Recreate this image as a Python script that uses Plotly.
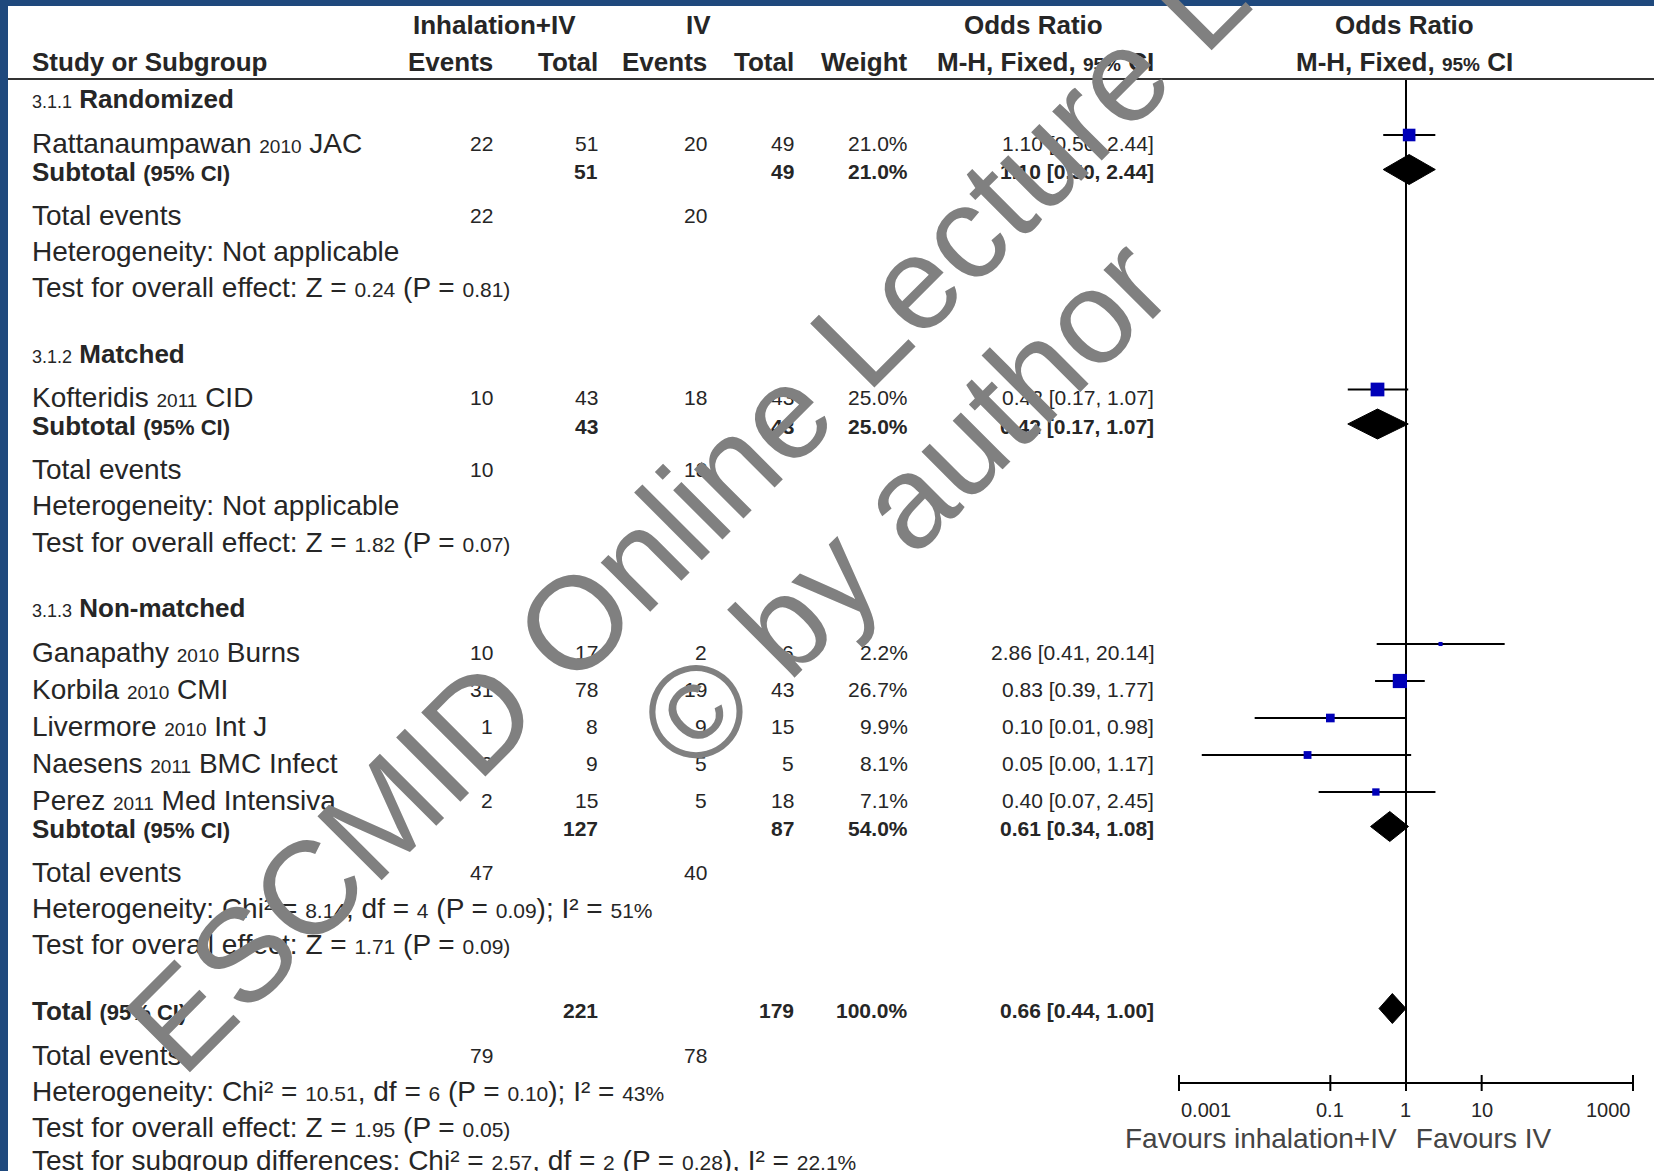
import plotly.graph_objects as go
import math

W, H = 1654, 1171

# ---------------- data ----------------
study_names = ["Rattanaumpawan", "Kofteridis", "Ganapathy", "Korbila", "Livermore", "Naesens", "Perez"]
study_years = ["2010", "2011", "2010", "2010", "2010", "2011", "2011"]
study_journals = ["JAC", "CID", "Burns", "CMI", "Int J", "BMC Infect", "Med Intensiva"]
study_group = [0, 1, 2, 2, 2, 2, 2]
events_inh = [22, 10, 10, 31, 1, 3, 2]
total_inh = [51, 43, 17, 78, 8, 9, 15]
events_iv = [20, 18, 2, 19, 9, 5, 5]
total_iv = [49, 43, 6, 43, 15, 5, 18]
weights = [21.0, 25.0, 2.2, 26.7, 9.9, 8.1, 7.1]
or_est = [1.10, 0.42, 2.86, 0.83, 0.10, 0.05, 0.40]
or_low = [0.50, 0.17, 0.41, 0.39, 0.01, 0.002, 0.07]
or_high = [2.44, 1.07, 20.14, 1.77, 0.98, 1.17, 2.45]

group_codes = ["3.1.1", "3.1.2", "3.1.3"]
group_titles = ["Randomized", "Matched", "Non-matched"]
group_total_inh = [51, 43, 127]
group_total_iv = [49, 43, 87]
group_weight = [21.0, 25.0, 54.0]
group_or = [1.10, 0.42, 0.61]
group_low = [0.50, 0.17, 0.34]
group_high = [2.44, 1.07, 1.08]
group_events_inh = [22, 10, 47]
group_events_iv = [20, 18, 40]
group_het_chi = [None, None, "8.14"]
group_het_df = [None, None, "4"]
group_het_p = [None, None, "0.09"]
group_het_i2 = [None, None, "51%"]
group_z = ["0.24", "1.82", "1.71"]
group_p = ["0.81", "0.07", "0.09"]

overall_total_inh = 221
overall_total_iv = 179
overall_weight = 100.0
overall_or = 0.66
overall_low = 0.44
overall_high = 1.00
overall_events_inh = 79
overall_events_iv = 78
overall_het = ("10.51", "6", "0.10", "43%")
overall_z = ("1.95", "0.05")
subgroup_diff = ("2.57", "2", "0.28", "22.1%")

tick_values = [0.001, 0.1, 1, 10, 1000]
tick_labels = ["0.001", "0.1", "1", "10", "1000"]
favours_left = "Favours inhalation+IV"
favours_right = "Favours IV"

# ---------------- styles / layout ----------------
REG = "Liberation Sans, Arial, sans-serif"
BLD = "Liberation Sans, Arial, sans-serif"
HS = 26  # bold header size
TXT = "#262626"
BLUE = "#0000b8"
BORDER = "#1f497d"
col_right = [495, 600, 709, 796, 910, 1156]
label_x = 30
axis_y = 1083
header_line_y = 79

annotations = []


def ann(xp, y, text, anchor="left", size=28, family=REG, color=TXT, **kw):
    d = dict(x=xp / W, xref="paper", y=y, yref="y", text=text, showarrow=False,
             xanchor=anchor, yanchor="middle",
             font=dict(size=size, family=family, color=color))
    d.update(kw)
    annotations.append(d)


def sm(s, sz=21):
    return f"<span style='font-size:{sz}px'>{s}</span>"


def fmt_or(e, lo, hi):
    return f"{e:.2f} [{lo:.2f}, {hi:.2f}]"


def numrow(y, vals, bold=False):
    for i, v in enumerate(vals):
        if v is None or v == "":
            continue
        t = f"<b>{v}</b>" if bold else str(v)
        ann(col_right[i], y, t, anchor="right", size=21)


# headers
ann(494, 25, "<b>Inhalation+IV</b>", anchor="center", size=HS, family=BLD)
ann(698, 25, "<b>IV</b>", anchor="center", size=HS, family=BLD)
ann(1033, 25, "<b>Odds Ratio</b>", anchor="center", size=HS, family=BLD)
ann(1404, 25, "<b>Odds Ratio</b>", anchor="center", size=HS, family=BLD)
ann(label_x, 62, "<b>Study or Subgroup</b>", size=HS, family=BLD)
for xr, t in zip(col_right[:5], ["Events", "Total", "Events", "Total", "Weight"]):
    ann(xr, 62, f"<b>{t}</b>", anchor="right", size=HS, family=BLD)
mh = "<b>M-H, Fixed, </b>" + sm("<b>95%</b>", 19) + "<b> CI</b>"
ann(1156, 62, mh, anchor="right", size=HS, family=BLD)
ann(1404, 62, mh, anchor="center", size=HS, family=BLD)

# forest trace collectors
ci_x, ci_y = [], []
sq_x, sq_y, sq_s = [], [], []
diamonds = []

y = 99
for g in range(3):
    ann(label_x, y, sm(group_codes[g], 18) + " <b>" + group_titles[g] + "</b>", size=HS, family=BLD)
    y += 44
    idx = [i for i in range(len(study_names)) if study_group[i] == g]
    last = y
    for i in idx:
        ann(label_x, y, f"{study_names[i]} {sm(study_years[i], 19)} {study_journals[i]}")
        numrow(y, [events_inh[i], total_inh[i], events_iv[i], total_iv[i],
                   f"{weights[i]:.1f}%", fmt_or(or_est[i], or_low[i], or_high[i])])
        ci_x += [or_low[i], or_high[i], None]
        ci_y += [y - 8, y - 8, None]
        sq_x.append(or_est[i]); sq_y.append(y - 8); sq_s.append(2.75 * math.sqrt(weights[i]))
        last = y
        y += 37
    y = last + 28.5
    ann(label_x, y, "<b>Subtotal</b> " + sm("<b>(95% CI)</b>", 22), size=HS, family=BLD)
    numrow(y, ["", group_total_inh[g], "", group_total_iv[g], f"{group_weight[g]:.1f}%",
               fmt_or(group_or[g], group_low[g], group_high[g])], bold=True)
    diamonds.append((group_low[g], group_or[g], group_high[g], y - 2))
    y += 43.5
    ann(label_x, y, "Total events")
    numrow(y, [group_events_inh[g], "", group_events_iv[g]])
    y += 36
    if group_het_chi[g] is None:
        ann(label_x, y, "Heterogeneity: Not applicable")
    else:
        ann(label_x, y, f"Heterogeneity: Chi² = {sm(group_het_chi[g])}, df = {sm(group_het_df[g])} "
                        f"(P = {sm(group_het_p[g])}); I² = {sm(group_het_i2[g])}")
    y += 36.5
    ann(label_x, y, f"Test for overall effect: Z = {sm(group_z[g])} (P = {sm(group_p[g] + ')')}")
    y += 66

# overall
ann(label_x, y, "<b>Total</b> " + sm("<b>(95% CI)</b>", 22), size=HS, family=BLD)
numrow(y, ["", overall_total_inh, "", overall_total_iv, f"{overall_weight:.1f}%",
           fmt_or(overall_or, overall_low, overall_high)], bold=True)
diamonds.append((overall_low, overall_or, overall_high, y - 2))
y += 44.5
ann(label_x, y, "Total events")
numrow(y, [overall_events_inh, "", overall_events_iv])
y += 36
c, d, p, i2 = overall_het
ann(label_x, y, f"Heterogeneity: Chi² = {sm(c)}, df = {sm(d)} (P = {sm(p)}); I² = {sm(i2)}")
y += 36
ann(label_x, y, f"Test for overall effect: Z = {sm(overall_z[0])} (P = {sm(overall_z[1] + ')')}")
y += 33
c, d, p, i2 = subgroup_diff
ann(label_x, y, f"Test for subgroup differences: Chi² = {sm(c)}, df = {sm(d)} (P = {sm(p)}), I² = {sm(i2)}")

# axis labels
anchors = ["left", "center", "center", "center", "right"]
for tv, tl, an in zip(tick_values, tick_labels, anchors):
    annotations.append(dict(x=math.log10(tv), xref="x", y=1110, yref="y", text=tl, showarrow=False,
                            xanchor=an, yanchor="middle", font=dict(size=20, family=REG, color=TXT)))
annotations.append(dict(x=math.log10(1), xref="x", y=1138, yref="y", text=favours_left + " ",
                        showarrow=False, xanchor="right", yanchor="middle",
                        font=dict(size=28, family=REG, color="#444444")))
annotations.append(dict(x=math.log10(1), xref="x", y=1138, yref="y", text=" " + favours_right,
                        showarrow=False, xanchor="left", yanchor="middle",
                        font=dict(size=28, family=REG, color="#444444")))

# watermark
annotations.append(dict(x=803 / W, xref="paper", y=394, yref="y", text="ESCMID Online Lecture Library",
                        showarrow=False, xanchor="center", yanchor="middle", textangle=-45,
                        font=dict(size=132, family=REG, color="#808080")))
annotations.append(dict(x=903 / W, xref="paper", y=504, yref="y", text="© by author",
                        showarrow=False, xanchor="center", yanchor="middle", textangle=-45,
                        font=dict(size=132, family=REG, color="#808080")))

fig = go.Figure()
# null line
fig.add_trace(go.Scatter(x=[1, 1], y=[header_line_y, axis_y], mode="lines",
                         line=dict(color="black", width=2), hoverinfo="skip"))
# axis line and ticks
fig.add_trace(go.Scatter(x=[tick_values[0], tick_values[-1]], y=[axis_y, axis_y], mode="lines",
                         line=dict(color="black", width=2), hoverinfo="skip"))
tx, ty = [], []
for tv in tick_values:
    tx += [tv, tv, None]
    ty += [axis_y - 8, axis_y + 8, None]
fig.add_trace(go.Scatter(x=tx, y=ty, mode="lines", line=dict(color="black", width=2), hoverinfo="skip"))
# CIs
fig.add_trace(go.Scatter(x=ci_x, y=ci_y, mode="lines", line=dict(color="black", width=2), hoverinfo="skip"))
# squares
fig.add_trace(go.Scatter(x=sq_x, y=sq_y, mode="markers",
                         marker=dict(symbol="square", size=sq_s, color=BLUE, opacity=1,
                                     line=dict(width=0)),
                         hoverinfo="skip"))
# diamonds
for lo, e, hi, yy in diamonds:
    fig.add_trace(go.Scatter(x=[lo, e, hi, e, lo], y=[yy, yy - 15, yy, yy + 15, yy], mode="lines",
                             fill="toself", fillcolor="black", line=dict(color="black", width=1),
                             hoverinfo="skip"))

px_per_dec = (1633 - 1179) / 6
pad = 0.02
fig.update_layout(
    width=W, height=H, margin=dict(l=0, r=0, t=0, b=0),
    paper_bgcolor="white", plot_bgcolor="white", showlegend=False,
    xaxis=dict(type="log", range=[-3 - pad, 3 + pad],
               domain=[(1179 - pad * px_per_dec) / W, (1633 + pad * px_per_dec) / W],
               visible=False, fixedrange=True),
    yaxis=dict(range=[H, 0], domain=[0, 1], visible=False, fixedrange=True),
    annotations=annotations,
    shapes=[
        dict(type="line", xref="paper", yref="y", x0=8 / W, x1=1, y0=header_line_y, y1=header_line_y,
             line=dict(color="#333333", width=2)),
        dict(type="rect", xref="paper", yref="paper", x0=0, x1=8 / W, y0=0, y1=1,
             fillcolor=BORDER, line=dict(width=0), layer="above"),
        dict(type="rect", xref="paper", yref="paper", x0=0, x1=1, y0=1 - 6 / H, y1=1,
             fillcolor=BORDER, line=dict(width=0), layer="above"),
    ],
)
fig.write_html("out.html", config={"displayModeBar": False},
               post_script="document.body.style.margin='0';document.body.style.overflow='hidden';")
